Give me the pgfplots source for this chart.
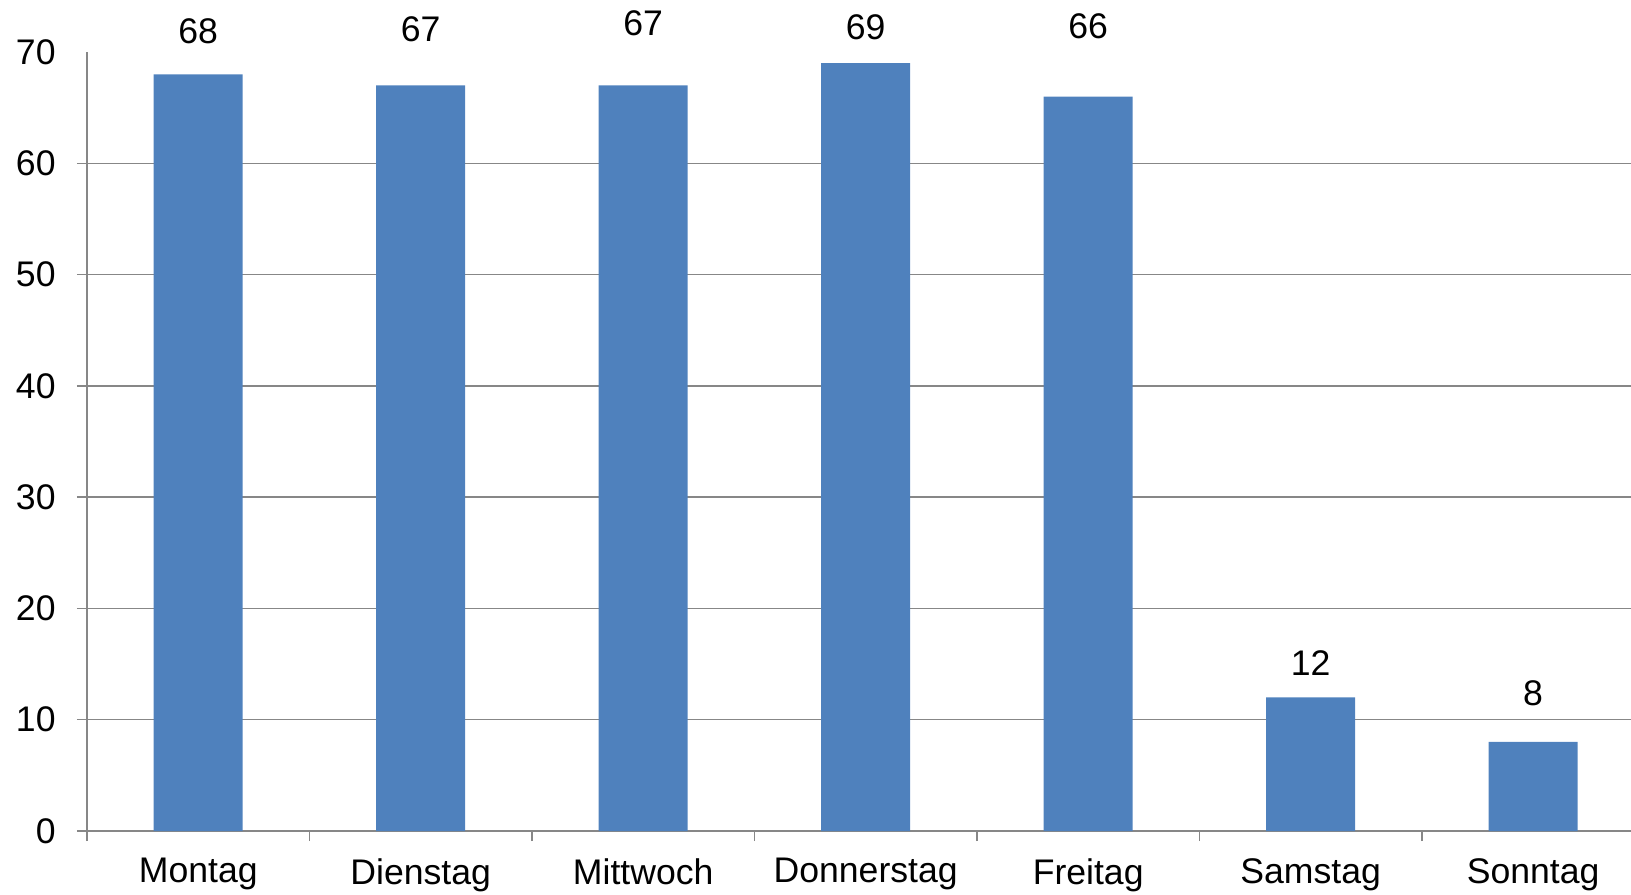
\documentclass[border=0pt]{standalone}
\usepackage{pgfplots}
\pgfplotsset{compat=1.18}
\usepackage{fontspec}
\setmainfont{Liberation Sans}
\definecolor{barblue}{HTML}{4F81BD}
\definecolor{gridgray}{HTML}{878787}

% x: category, y: value, ly: height of the value label
\pgfplotstableread{
x y ly
0 68 71.83
1 67 72.06
2 67 72.55
3 69 72.19
4 66 72.33
5 12 15.09
6 8 12.40
}\days

\begin{document}
\begin{tikzpicture}
\begin{axis}[
    scale only axis,
    width=772pt, height=389.5pt,
    at={(0,0)}, anchor=south west,
    xmin=-0.5, xmax=6.44,
    ymin=0, ymax=70,
    axis lines=left,
    axis line style={-, gridgray, line width=0.75pt},
    tick align=outside,
    tick style={gridgray, line width=0.75pt},
    xtick={-0.5,0.5,...,6.5},
    xticklabels={},
    extra x ticks={0,1,2,3,4,5,6},
    extra x tick labels={Montag,Dienstag,Mittwoch,Donnerstag,Freitag,Samstag,Sonntag},
    extra x tick style={major tick length=0pt,
        xticklabel style={inner sep=0pt, yshift=-13.5pt}},
    major tick length=5pt,
    ytick={0,10,...,60},
    extra y ticks={70},
    extra y tick style={grid=none, tick style={draw=none}},
    ymajorgrids=true,
    grid style={gridgray, line width=0.75pt},
    yticklabel style={inner sep=0pt, xshift=-10.5pt},
    every tick label/.append style={font=\fontsize{17.8}{20}\selectfont, text=black},
    /pgf/number format/assume math mode=true,
    clip=false,
]
\addplot[ybar, bar width=44.5pt, bar shift=0pt, fill=barblue, draw=none]
    table[x=x, y=y] {\days};
\addplot[draw=none, mark=none, nodes near coords, point meta=explicit symbolic,
    every node near coord/.style={anchor=center, inner sep=0pt,
        font=\fontsize{17.8}{20}\selectfont, text=black}]
    table[x=x, y=ly, meta=y] {\days};
\end{axis}
\pgfresetboundingbox
\path[use as bounding box] (-43.5pt,-31.5pt) rectangle (772pt,415.5pt);
\end{tikzpicture}
\end{document}
